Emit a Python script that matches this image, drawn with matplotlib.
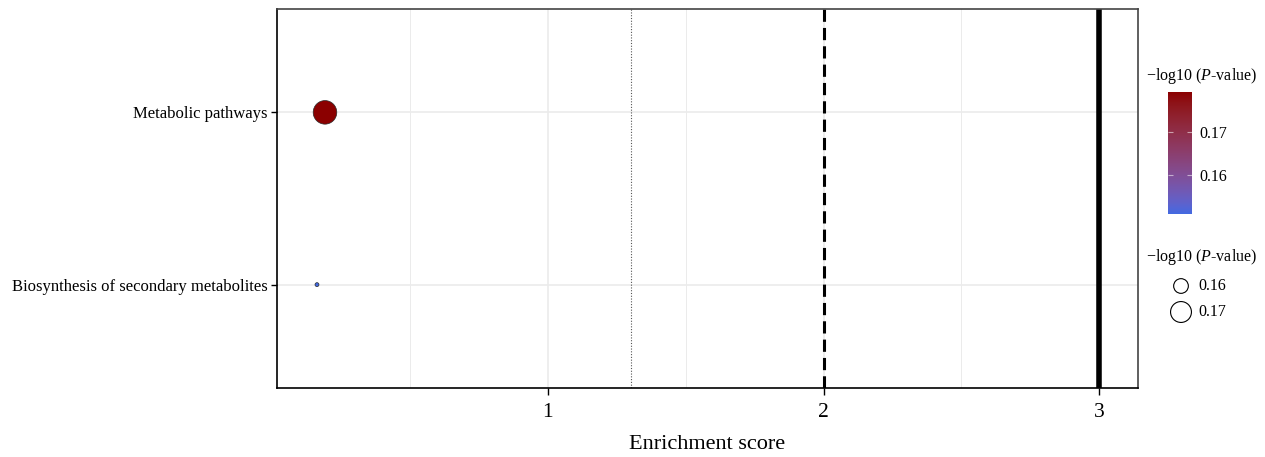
import numpy as np
import matplotlib
matplotlib.use('Agg')
import matplotlib.pyplot as plt
from matplotlib.colors import ListedColormap, Normalize, to_rgb
from matplotlib.colorbar import ColorbarBase

plt.rcParams['font.family'] = ['Liberation Serif', 'DejaVu Serif']
plt.rcParams['mathtext.fontset'] = 'custom'
plt.rcParams['mathtext.rm'] = 'Liberation Serif'
plt.rcParams['mathtext.it'] = 'Liberation Serif:italic'

# KEGG pathway enrichment results
pathways = ['Biosynthesis of secondary metabolites', 'Metabolic pathways']
enrichment = [0.163, 0.192]
neglogp = [0.151, 0.1792]
size_breaks = [0.16, 0.17]
color_ticks = [0.16, 0.17]

# --- gradient interpolated in CIELAB, like scale_colour_gradient ---
M = np.array([[0.4124, 0.3576, 0.1805],
              [0.2126, 0.7152, 0.0722],
              [0.0193, 0.1192, 0.9505]])
WHITE = np.array([0.95047, 1.0, 1.08883])


def srgb_to_lab(rgb):
    c = np.asarray(rgb, float)
    lin = np.where(c <= 0.04045, c / 12.92, ((c + 0.055) / 1.055) ** 2.4)
    xyz = M @ lin / WHITE
    f = np.where(xyz > 216 / 24389, np.cbrt(xyz), (24389 / 27 * xyz + 16) / 116)
    return np.array([116 * f[1] - 16, 500 * (f[0] - f[1]), 200 * (f[1] - f[2])])


def lab_to_srgb(lab):
    L, a, b = lab
    fy = (L + 16) / 116
    f = np.array([fy + a / 500, fy, fy - b / 200])
    xyz = np.where(f ** 3 > 216 / 24389, f ** 3, (116 * f - 16) / (24389 / 27)) * WHITE
    lin = np.linalg.solve(M, xyz)
    lin = np.clip(lin, 0, 1)
    c = np.where(lin <= 0.0031308, 12.92 * lin, 1.055 * lin ** (1 / 2.4) - 0.055)
    return np.clip(c, 0, 1)


lab_lo, lab_hi = srgb_to_lab(to_rgb('#4169E1')), srgb_to_lab(to_rgb('#8B0000'))
cmap = ListedColormap([lab_to_srgb(lab_lo + t * (lab_hi - lab_lo))
                       for t in np.linspace(0, 1, 256)])

vmin, vmax = min(neglogp), max(neglogp)
norm = Normalize(vmin=vmin, vmax=vmax)


def size_of(v):
    # marker area grows with -log10(p)
    return 8 + 280 * (v - vmin) / (vmax - vmin)


W, H = 1265, 457
fig = plt.figure(figsize=(W / 100, H / 100), dpi=100)
ax = fig.add_axes([277 / W, 1 - 388 / H, (1138 - 277) / W, (388 - 9) / H])

ypos = np.arange(1, len(pathways) + 1)
ax.scatter(enrichment, ypos, s=[size_of(v) for v in neglogp],
           c=neglogp, cmap=cmap, norm=norm, edgecolors='#2a2a2a',
           linewidths=0.5, zorder=3)

# reference lines: p = 0.05, score 2 and 3
ax.axvline(-np.log10(0.05), color='#555555', lw=0.8, ls=(0, (1, 1.5)), zorder=2)
ax.axvline(2, color='black', lw=2.2, ls=(0, (4, 2)), zorder=2)
ax.axvline(3, color='black', lw=4, zorder=2)

ax.set_xlim(0.018, 3.14)
ax.set_ylim(0.4, 2.6)
ax.set_xticks([1, 2, 3])
ax.set_xticks([0.5, 1.5, 2.5], minor=True)
ax.set_yticks(ypos)
ax.set_yticklabels(pathways, fontsize=12)
ax.tick_params(axis='x', labelsize=15.5, length=5, width=1, pad=6)
ax.tick_params(axis='y', length=4, width=1, pad=3)
ax.tick_params(which='minor', length=0)
ax.grid(True, which='major', color='#EBEBEB', lw=1.2, zorder=0)
ax.grid(True, which='minor', axis='x', color='#EBEBEB', lw=0.7, zorder=0)
ax.set_axisbelow(True)
for sp in ax.spines.values():
    sp.set_linewidth(1.2)
ax.spines['top'].set_color('#444444')
ax.spines['right'].set_color('#444444')
ax.set_xlabel('Enrichment score', fontsize=16, labelpad=9)

legend_title = '\u2212log10 ($\\mathit{P}$-value)'

# colour scale
fig.text(1146 / W, 1 - 76 / H, legend_title, fontsize=11.5, va='center', ha='left')
cax = fig.add_axes([1168 / W, 1 - 214 / H, 24 / W, (214 - 92) / H])
cb = ColorbarBase(cax, cmap=cmap, norm=norm, ticks=color_ticks)
cb.outline.set_visible(False)
cb.ax.tick_params(length=3.5, color=(1, 1, 1, 0.55), labelsize=11.5, pad=5,
                  direction='in', left=True, right=True)
cb.ax.set_yticklabels([f'{t:.2f}' for t in color_ticks])

# size scale, laid out in pixel coordinates
lax = fig.add_axes([0, 0, 1, 1], zorder=-1)
lax.set_xlim(0, W)
lax.set_ylim(H, 0)
lax.axis('off')
lax.text(1146, 257, legend_title, fontsize=11.5, va='center', ha='left')
key_y = 286 + 26 * np.arange(len(size_breaks))
lax.scatter(np.full(len(size_breaks), 1181), key_y,
            s=[size_of(v) * 1.15 for v in size_breaks],
            facecolors='white', edgecolors='black', linewidths=0.8)
for yk, v in zip(key_y, size_breaks):
    lax.text(1198, yk, f'{v:.2f}', fontsize=11.5, va='center', ha='left')

fig.savefig('out.png', dpi=100)
